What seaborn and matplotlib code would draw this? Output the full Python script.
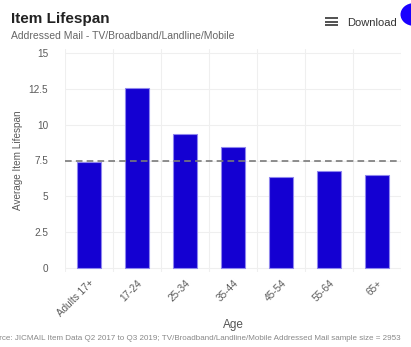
import matplotlib
matplotlib.use("Agg")
import matplotlib.pyplot as plt
from matplotlib.patches import Circle, Rectangle
import seaborn as sns
import pandas as pd

# Average item lifespan by age band
ages = ["Adults 17+", "17-24", "25-34", "35-44", "45-54", "55-64", "65+"]
lifespan = [7.42, 12.54, 9.33, 8.42, 6.33, 6.77, 6.51]
average_line = 7.45
y_ticks = [0, 2.5, 5, 7.5, 10, 12.5, 15]
y_tick_labels = ["0", "2.5", "5", "7.5", "10", "12.5", "15"]

df = pd.DataFrame({"Age": ages, "Lifespan": lifespan})

sns.set_style("white")
plt.rcParams["font.family"] = ["Liberation Sans", "DejaVu Sans"]

W, H = 411, 347
fig = plt.figure(figsize=(W / 100, H / 100), dpi=100)

# plot area in pixel coordinates
left, right = 65, 401
ymin, ymax = -0.3, 15.3
px_per_unit = 215 / 15
bottom_px = 268 + 0.3 * px_per_unit
top_px = 53 - 0.3 * px_per_unit
ax_h = bottom_px - top_px
ax = fig.add_axes([left / W, 1 - bottom_px / H, (right - left) / W, ax_h / H])

sns.barplot(data=df, x="Age", y="Lifespan", ax=ax, color="#1400d2",
            width=0.48, edgecolor="#8f86ee", linewidth=0.8, saturation=1, zorder=3)

ax.axhline(average_line, color="#7a7a7a", linestyle=(0, (4, 2.5)), linewidth=1.2, zorder=4)

ax.set_xlim(-0.5, len(ages) - 0.5)
ax.set_ylim(ymin, ymax)
ax.set_yticks(y_ticks)
ax.set_yticklabels(y_tick_labels)

# light grid: horizontal at ticks, vertical between categories
for y in y_ticks:
    ax.axhline(y, color="#efefef", linewidth=0.8, zorder=0)
for i in range(len(ages) + 1):
    ax.axvline(i - 0.5, color="#efefef", linewidth=0.8, zorder=0)

for s in ax.spines.values():
    s.set_visible(False)
ax.tick_params(axis="both", length=0, labelsize=7.2, labelcolor="#5a5a5a")
ax.tick_params(axis="y", pad=12)
ax.set_xticks(range(len(ages)))
ax.set_xticklabels(ages, rotation=45, ha="right", rotation_mode="anchor")
ax.tick_params(axis="x", pad=4)

ax.set_xlabel("Age", fontsize=8.5, color="#555555", labelpad=0)
ax.xaxis.set_label_coords(0.5, -(319 - bottom_px) / ax_h)
ax.set_ylabel("Average Item Lifespan", fontsize=7.2, color="#5a5a5a")
ax.yaxis.set_label_coords(-(left - 23) / (right - left), 0.5)

# titles
fig.text(11 / W, 1 - 22.5 / H, "Item Lifespan", fontsize=11, fontweight="bold",
         color="#222222", va="baseline", ha="left")
fig.text(11 / W, 1 - 39 / H, "Addressed Mail - TV/Broadband/Landline/Mobile",
         fontsize=7.5, color="#666666", va="baseline", ha="left")

# caption (extends past the left edge)
fig.text(401 / W, 1 - 338 / H,
         "Source: JICMAIL Item Data Q2 2017 to Q3 2019; TV/Broadband/Landline/Mobile Addressed Mail sample size = 2953",
         fontsize=5.8, color="#888888", va="center", ha="right")

# download menu
for dy in (17.3, 20.7, 23.8):
    fig.add_artist(Rectangle((325 / W, 1 - (dy + 2) / H), 13 / W, 2 / H,
                             transform=fig.transFigure, color="#555555", lw=0))
fig.text(347 / W, 1 - 26 / H, "Download", fontsize=8, color="#333333",
         va="baseline", ha="left")
fig.add_artist(Circle((414 / W, 1 - 14.5 / H), 13.5 / W, transform=fig.transFigure,
                      color="#1a00ff", lw=0))

fig.savefig("out.png", dpi=100)
